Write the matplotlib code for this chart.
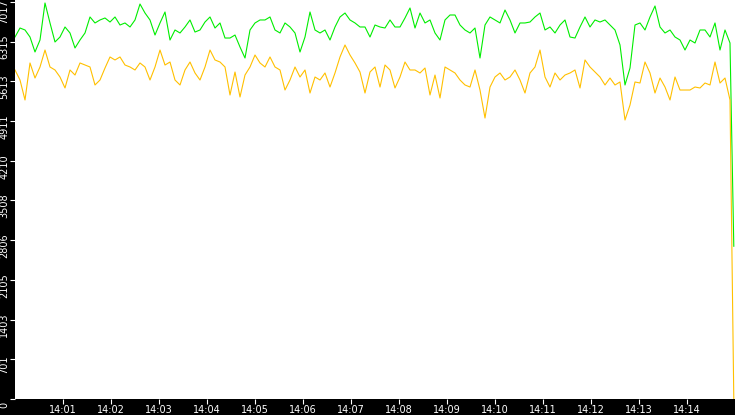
import matplotlib
matplotlib.use("Agg")
import matplotlib.pyplot as plt
import matplotlib.dates as mdates
import matplotlib.transforms as mtransforms
import numpy as np
import pandas as pd

# sample times: every 6.25 s from 14:00:00, plus the last sample where both drop
times = list(pd.date_range("2024-01-01 14:00:00", periods=144, freq="6250ms"))
times.append(pd.Timestamp("2024-01-01 14:14:58.5"))

green = [6398, 6557, 6522, 6398, 6133, 6345, 6999, 6646, 6310, 6398,
         6575, 6469, 6204, 6345, 6469, 6752, 6646, 6699, 6734, 6663,
         6752, 6610, 6646, 6575, 6699, 6981, 6822, 6699, 6433, 6646,
         6840, 6345, 6522, 6469, 6575, 6699, 6486, 6522, 6663, 6752,
         6557, 6646, 6380, 6380, 6433, 6221, 6027, 6522, 6646, 6699,
         6699, 6752, 6522, 6469, 6646, 6575, 6469, 6133, 6398, 6840,
         6522, 6469, 6522, 6345, 6575, 6752, 6822, 6699, 6646, 6575,
         6575, 6398, 6610, 6575, 6557, 6699, 6575, 6575, 6734, 6911,
         6557, 6822, 6646, 6699, 6469, 6345, 6699, 6787, 6787, 6610,
         6522, 6469, 6557, 6027, 6610, 6752, 6699, 6646, 6875, 6699,
         6469, 6646, 6646, 6663, 6752, 6822, 6522, 6575, 6469, 6610,
         6699, 6398, 6380, 6575, 6752, 6575, 6699, 6663, 6699, 6610,
         6522, 6257, 5550, 5850, 6610, 6646, 6522, 6752, 6946, 6575,
         6469, 6522, 6398, 6345, 6168, 6345, 6292, 6522, 6522, 6398,
         6646, 6168, 6522, 6292, 2700]

yellow = [5815, 5638, 5285, 5939, 5673, 5868, 6168, 5868, 5815, 5691,
          5497, 5815, 5726, 5939, 5903, 5868, 5550, 5638, 5850, 6045,
          5992, 6045, 5903, 5868, 5815, 5939, 5868, 5638, 5868, 6168,
          5903, 5956, 5638, 5550, 5815, 5956, 5762, 5638, 5868, 6168,
          5992, 5956, 5868, 5373, 5779, 5338, 5726, 5868, 6080, 5939,
          5868, 6045, 5868, 5815, 5461, 5638, 5868, 5691, 5815, 5408,
          5691, 5638, 5762, 5514, 5762, 6045, 6257, 6080, 5939, 5779,
          5408, 5779, 5868, 5514, 5903, 5815, 5497, 5691, 5956, 5815,
          5815, 5762, 5850, 5373, 5726, 5320, 5868, 5815, 5762, 5638,
          5550, 5514, 5815, 5461, 4966, 5514, 5691, 5762, 5638, 5691,
          5815, 5638, 5408, 5762, 5868, 6168, 5691, 5514, 5762, 5638,
          5726, 5762, 5815, 5497, 5992, 5868, 5779, 5691, 5550, 5673,
          5550, 5603, 4931, 5196, 5603, 5585, 5956, 5762, 5408, 5673,
          5514, 5285, 5691, 5461, 5461, 5461, 5514, 5497, 5585, 5550,
          5956, 5585, 5673, 5285, 0]

y_max = 7017
y_ticks = [y_max * k / 10 for k in range(11)]
y_labels = [str(int(v)) for v in y_ticks]

fig = plt.figure(figsize=(7.35, 4.15), dpi=100, facecolor="black")
ax = fig.add_axes([15 / 735, 16 / 415, 720 / 735, 399 / 415])
ax.set_facecolor("white")

ax.plot(times, green, color="#00ee00", lw=0.8)
ax.plot(times, yellow, color="#ffc000", lw=0.8)

ax.set_xlim(pd.Timestamp("2024-01-01 14:00:00"), pd.Timestamp("2024-01-01 14:15:00"))
ax.set_ylim(0, 7052)
ax.xaxis.set_major_locator(mdates.MinuteLocator())
ax.xaxis.set_major_formatter(mdates.DateFormatter("%H:%M"))
ticks = ax.get_xticks()
ax.set_xticks(ticks[1:-1])

ax.set_yticks(y_ticks)
ax.set_yticklabels(y_labels, rotation=90, va="center")

for s in ax.spines.values():
    s.set_visible(False)
ax.tick_params(colors="white", labelsize=7, length=3.6, width=0.8, pad=0.5)

# push the rotated y labels a little below their tick (top one a bit more so it fits)
labels = ax.get_yticklabels()
for i, lab in enumerate(labels):
    dy = -9.5 if i == len(labels) - 1 else -5.5
    offset = mtransforms.ScaledTranslation(0, dy / 100, fig.dpi_scale_trans)
    lab.set_transform(lab.get_transform() + offset)

fig.savefig("out.png", dpi=100, facecolor="black")
